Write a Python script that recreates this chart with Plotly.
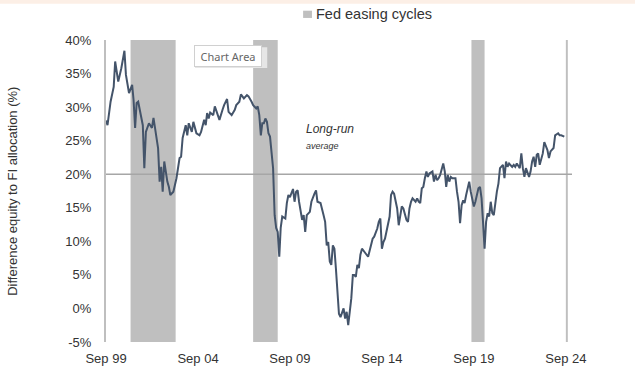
import plotly.graph_objects as go

dates = ["1999-09","1999-10","1999-12","2000-02","2000-03","2000-05","2000-07","2000-09","2000-10","2000-12",
"2001-02","2001-03","2001-04","2001-05","2001-06","2001-08","2001-09","2001-10","2001-11","2002-01",
"2002-03","2002-04","2002-06","2002-07","2002-08","2002-09","2002-10","2002-11","2003-01","2003-02",
"2003-03","2003-05","2003-07","2003-09","2003-10","2003-11","2004-01","2004-02","2004-03","2004-05",
"2004-06","2004-08","2004-10","2004-11","2005-01","2005-02","2005-03","2005-04","2005-05","2005-07",
"2005-08","2005-10","2005-11","2006-01","2006-02","2006-04","2006-05","2006-07","2006-09","2006-10",
"2006-12","2007-01","2007-03","2007-05","2007-06","2007-08","2007-09","2007-11","2007-12","2008-01",
"2008-02","2008-03","2008-04","2008-05","2008-06","2008-07","2008-08","2008-10","2008-11","2008-12",
"2009-01","2009-02","2009-03","2009-04","2009-06","2009-07","2009-08","2009-09","2009-11","2009-12",
"2010-01","2010-02","2010-03","2010-05","2010-06","2010-07","2010-08","2010-10","2010-11","2011-01",
"2011-02","2011-03","2011-05","2011-07","2011-08","2011-09","2011-10","2011-11","2011-12","2012-01",
"2012-02","2012-03","2012-04","2012-05","2012-06","2012-08","2012-09","2012-10","2012-11","2013-01",
"2013-02","2013-03","2013-04","2013-05","2013-06","2013-07","2013-08","2013-10","2013-11","2013-12",
"2014-02","2014-03","2014-04","2014-06","2014-07","2014-08","2014-09","2014-10","2014-11","2014-12",
"2015-02","2015-03","2015-04","2015-05","2015-07","2015-08","2015-10","2015-11","2016-01","2016-02",
"2016-03","2016-04","2016-05","2016-07","2016-08","2016-09","2016-10","2016-11","2016-12","2017-01",
"2017-02","2017-03","2017-04","2017-06","2017-07","2017-08","2017-09","2017-10","2017-11","2018-01",
"2018-02","2018-03","2018-04","2018-05","2018-06","2018-07","2018-09","2018-10","2018-11","2018-12",
"2019-01","2019-02","2019-03","2019-04","2019-05","2019-06","2019-07","2019-09","2019-10","2019-11",
"2019-12","2020-01","2020-02","2020-03","2020-04","2020-05","2020-06","2020-07","2020-08","2020-09",
"2020-10","2020-12","2021-01","2021-02","2021-04","2021-05","2021-06","2021-07","2021-08","2021-10",
"2021-11","2021-12","2022-01","2022-03","2022-04","2022-05","2022-06","2022-07","2022-09","2022-10",
"2022-11","2022-12","2023-01","2023-02","2023-03","2023-04","2023-05","2023-06","2023-07","2023-09",
"2023-10","2023-11","2024-01","2024-02","2024-04","2024-05","2024-06","2024-08","2024-09"]

values = [28.0,27.3,30.8,33.0,36.8,33.8,35.8,38.4,34.8,32.1,
33.3,31.1,26.9,30.6,30.8,28.4,27.3,20.9,26.3,27.6,
26.9,28.4,25.8,23.9,18.9,21.1,17.4,21.9,18.9,18.1,
16.9,17.4,19.4,22.4,22.6,25.4,27.3,25.8,27.6,26.3,
27.8,26.1,25.8,26.3,28.1,27.3,29.1,28.3,29.2,28.8,
30.1,28.8,28.1,29.6,30.3,31.2,29.3,28.8,29.6,30.3,
30.8,31.9,31.3,31.8,31.6,30.8,30.3,29.8,30.1,28.8,
25.8,27.6,27.6,28.3,27.8,26.1,25.6,20.9,13.9,12.0,
11.4,7.7,12.0,13.7,13.4,15.7,16.9,16.6,17.8,15.9,
17.4,17.6,15.9,13.2,13.9,11.4,13.9,14.4,15.9,17.1,
17.6,15.9,15.7,13.9,12.9,9.4,9.9,7.0,6.5,9.4,
8.9,6.0,2.2,-0.8,-1.3,0.0,-1.5,-0.5,-2.5,1.5,
5.0,5.0,4.7,6.5,6.0,8.0,8.9,8.4,8.0,7.7,
9.4,10.4,10.7,11.9,12.9,13.4,8.9,9.9,10.4,11.4,
13.7,16.9,17.4,17.1,14.9,12.4,15.2,14.9,13.2,12.9,
14.9,15.9,16.4,15.9,16.4,15.9,15.7,17.9,18.1,19.4,
20.4,19.6,20.1,20.4,18.9,19.9,19.1,19.4,19.9,21.6,
20.4,18.1,19.9,18.9,19.6,19.4,19.4,17.4,15.9,12.7,
15.4,16.1,15.7,16.9,17.9,18.9,17.4,15.2,15.9,16.9,
17.9,18.1,16.4,12.9,8.9,12.9,14.2,13.7,15.9,14.2,
13.9,17.4,18.6,20.9,21.4,19.4,21.9,21.1,21.6,21.1,
21.4,21.1,21.6,20.9,23.1,20.9,19.6,20.9,19.6,20.4,
21.9,22.6,21.1,22.9,23.1,21.4,22.4,23.1,24.8,23.6,
22.4,23.4,23.9,25.8,26.1,25.8,25.8,25.6]

easing_start = ["2001-01-01", "2007-09-01", "2019-07-15", "2024-09-01"]
easing_end = ["2003-06-15", "2009-01-01", "2020-04-01", "2024-10-10"]

long_run_avg = 20.0

tick_vals = ["1999-09-01", "2004-09-01", "2009-09-01", "2014-09-01", "2019-09-01", "2024-09-01"]
tick_text = ["Sep 99", "Sep 04", "Sep 09", "Sep 14", "Sep 19", "Sep 24"]
y_ticks = [-5, 0, 5, 10, 15, 20, 25, 30, 35, 40]
y_text = [f"{v}%" for v in y_ticks]

FONT = "Liberation Sans, Arial, sans-serif"
fig = go.Figure()

# faint strip at the very top of the screenshot
fig.add_shape(type="rect", xref="paper", yref="paper", x0=-0.5, x1=1.5, y0=1.12, y1=1.14,
              fillcolor="#FCEFE6", line_width=0, layer="below")

for s, e in zip(easing_start, easing_end):
    fig.add_vrect(x0=s, x1=e, fillcolor="#BFBFBF", line_width=0, layer="below", opacity=1)

fig.add_hline(y=long_run_avg, line=dict(color="#A6A6A6", width=1.5), layer="below")

fig.add_trace(go.Scatter(
    x=dates, y=values, mode="lines",
    line=dict(color="#44546A", width=2),
    showlegend=False, hoverinfo="skip"))

# legend entry
fig.add_shape(type="rect", xref="paper", yref="paper", x0=0.423, x1=0.442, y0=1.073, y1=1.097,
              fillcolor="#BFBFBF", line_width=0)
fig.add_annotation(xref="paper", yref="paper", x=0.446, y=1.086, xanchor="left", yanchor="middle",
                   text="Fed easing cycles", showarrow=False,
                   font=dict(family=FONT, size=14.5, color="#333333"))

fig.add_annotation(x="2010-06-01", y=26.7, text="<i>Long-run</i>", showarrow=False,
                   xanchor="left", font=dict(family=FONT, size=12, color="#333333"))
fig.add_annotation(x="2010-06-01", y=24.2, text="<i>average</i>", showarrow=False,
                   xanchor="left", font=dict(family=FONT, size=9, color="#333333"))

# tooltip box visible in the screenshot
fig.add_shape(type="rect", xref="paper", yref="paper", x0=0.191, x1=0.346, y0=0.907, y1=0.976,
              fillcolor="#E6E6E6", line_width=0)
fig.add_annotation(xref="paper", yref="paper", x=0.188, y=0.984, text="Chart Area",
                   showarrow=False, xanchor="left", yanchor="top", width=62, height=16,
                   font=dict(family="Noto Sans, sans-serif", size=11, color="#666666"),
                   bgcolor="white", bordercolor="#D0D0D0", borderwidth=1, borderpad=2)

fig.add_annotation(xref="paper", yref="paper", x=-0.202, y=0.5, xanchor="center", yanchor="middle",
                   text="Difference equity to FI allocation (%)", textangle=-90, showarrow=False,
                   font=dict(family=FONT, size=13, color="#333333"))

fig.update_layout(
    width=635, height=385,
    margin=dict(l=106, r=63, t=40, b=43, autoexpand=False),
    paper_bgcolor="white", plot_bgcolor="white",
    showlegend=False,
    font=dict(family=FONT, size=13, color="#333333"),
    xaxis=dict(type="date", range=["1999-09-01", "2025-01-01"], tickvals=tick_vals,
               ticktext=tick_text, showgrid=False, zeroline=False, showline=False,
               ticks="outside", ticklen=4, tickcolor="rgba(0,0,0,0)", tickfont=dict(size=13),
               automargin=False),
    yaxis=dict(range=[-5, 40], tickvals=y_ticks, ticktext=y_text, showgrid=False,
               zeroline=False, showline=True, linecolor="#BFBFBF", linewidth=2,
               ticks="outside", ticklen=10, tickcolor="rgba(0,0,0,0)", tickfont=dict(size=13),
               automargin=False),
)

fig.write_html("out.html", config={"displayModeBar": False, "staticPlot": True})

with open("out.html", "r", encoding="utf-8") as f:
    html = f.read()
html = html.replace("<head>", "<head><style>html,body{margin:0;padding:0;overflow:hidden;}</style>", 1)
with open("out.html", "w", encoding="utf-8") as f:
    f.write(html)
